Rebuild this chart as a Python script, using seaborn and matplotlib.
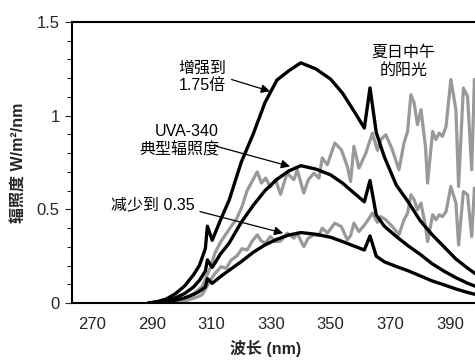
import matplotlib
matplotlib.use("Agg")
import matplotlib.pyplot as plt
import seaborn as sns
import numpy as np
import pandas as pd

# black curves: lamp spectra (wavelength in nm, irradiance W/m2/nm)
lamp_nm = [289, 292, 295, 298, 301, 304, 306, 308, 308.7, 310.3, 313, 316, 320, 324,
           328, 332, 336, 340, 345, 350, 354, 358, 361.3, 363.2, 365.3, 368, 372, 376,
           380, 384, 388, 392, 396, 400]
boost_175 = [0.0, 0.008, 0.022, 0.05, 0.09, 0.15, 0.2, 0.29, 0.41, 0.335, 0.44, 0.55, 0.75, 0.9,
             1.07, 1.19, 1.24, 1.282, 1.25, 1.195, 1.12, 1.02, 0.934, 1.148, 0.91, 0.78, 0.63, 0.54,
             0.44, 0.365, 0.3, 0.235, 0.185, 0.14]
uva340 = [0.0, 0.005, 0.013, 0.028, 0.05, 0.085, 0.12, 0.17, 0.23, 0.19, 0.26, 0.32, 0.43, 0.52,
          0.6, 0.66, 0.705, 0.733, 0.715, 0.684, 0.64, 0.585, 0.54, 0.654, 0.47, 0.41, 0.355, 0.305,
          0.26, 0.21, 0.17, 0.135, 0.105, 0.08]
reduce_035 = [0.0, 0.003, 0.007, 0.015, 0.027, 0.045, 0.062, 0.085, 0.13, 0.105, 0.14, 0.175, 0.22, 0.27,
              0.31, 0.34, 0.363, 0.376, 0.367, 0.351, 0.328, 0.303, 0.283, 0.358, 0.25, 0.22, 0.195, 0.172,
              0.145, 0.118, 0.097, 0.075, 0.056, 0.04]

# gray curves: noon sunlight
sun_nm = [296, 299, 302, 305, 307, 309.7, 311.3, 313.3, 315, 316.7, 318.5, 320.3, 322, 323.7,
          325.4, 326.8, 328.2, 329.8, 331.5, 333.2, 335.4, 337.7, 338.8, 341, 342.5, 344.4, 346.1,
          347.2, 348.9, 351.4, 353.6, 355.6, 356.7, 357.8, 359.5, 361.8, 364, 365.7, 366.8, 368.5,
          370.7, 372.9, 374.6, 375.8, 376.9, 378, 379.1, 380.3, 381.8, 382.5, 384.2, 385.3, 386.4,
          387.5, 388.7, 390.3, 392, 392.9, 394.5, 395.9, 397.3, 398.2, 399.5]
sun_high = [0.0, 0.01, 0.03, 0.06, 0.09, 0.19, 0.27, 0.33, 0.37, 0.41, 0.45, 0.515, 0.6, 0.65,
            0.7, 0.64, 0.667, 0.62, 0.66, 0.58, 0.693, 0.658, 0.711, 0.587, 0.658, 0.693, 0.667,
            0.774, 0.738, 0.854, 0.818, 0.729, 0.649, 0.836, 0.72, 0.8, 0.907, 0.815, 0.872, 0.898,
            0.818, 0.711, 0.854, 0.916, 1.112, 1.068, 0.952, 1.032, 0.836, 0.64, 0.916, 0.872, 0.907,
            0.889, 0.943, 1.193, 1.032, 0.622, 1.148, 1.103, 0.711, 1.193, 1.0]
sun_low = [0.0, 0.005, 0.015, 0.03, 0.045, 0.123, 0.159, 0.194, 0.185, 0.23, 0.25, 0.29, 0.283, 0.33,
           0.364, 0.33, 0.32, 0.355, 0.328, 0.33, 0.373, 0.346, 0.373, 0.301, 0.346, 0.364, 0.36,
           0.4, 0.373, 0.426, 0.408, 0.337, 0.36, 0.426, 0.381, 0.426, 0.48, 0.43, 0.461, 0.444,
           0.408, 0.364, 0.444, 0.48, 0.578, 0.551, 0.497, 0.533, 0.408, 0.328, 0.471, 0.444, 0.471,
           0.461, 0.488, 0.622, 0.533, 0.31, 0.595, 0.578, 0.355, 0.613, 0.5]

x_ticks = [270, 290, 310, 330, 350, 370, 390]
y_ticks = [0, 0.5, 1, 1.5]
y_tick_labels = ["0", "0.5", "1", "1.5"]

sns.set_style("ticks")
plt.rcParams['font.family'] = ['Liberation Sans', 'Noto Sans CJK SC']

fig = plt.figure(figsize=(4.75, 3.6), dpi=100)
ax = fig.add_axes([72 / 475, 57 / 360, 1 - 72 / 475, 281 / 360])

gray = '#999999'
sns.lineplot(x=sun_nm, y=sun_high, color=gray, lw=2.3, ax=ax, estimator=None)
sns.lineplot(x=sun_nm, y=sun_low, color=gray, lw=2.3, ax=ax, estimator=None)
for vals in [boost_175, uva340, reduce_035]:
    sns.lineplot(x=lamp_nm, y=vals, color='black', lw=2.4, ax=ax, estimator=None)

ax.set_xlim(263.3, 398.4)
ax.set_ylim(0, 1.5)
ax.set_xticks(x_ticks)
ax.set_yticks(y_ticks)
ax.set_yticklabels(y_tick_labels)
ax.set_yticks(np.arange(0, 1.51, 0.1), minor=True)
ax.tick_params(axis='x', length=0, pad=10, labelsize=12)
ax.tick_params(axis='y', which='major', length=5, width=0.8, labelsize=12, pad=4)
ax.tick_params(axis='y', which='minor', length=3.8, width=0.8)

ax.spines['right'].set_visible(False)
for s in ['top', 'left', 'bottom']:
    ax.spines[s].set_linewidth(1.5)
    ax.spines[s].set_color('black')

ax.set_xlabel('波长 (nm)', fontsize=11.5, fontweight='bold')
ax.set_ylabel('辐照度 W/m²/nm', fontsize=11.5, fontweight='bold')
ax.xaxis.set_label_coords(0.481, -0.132)
ax.yaxis.set_label_coords(-0.112, 0.5)

txt = dict(fontsize=11.5, color='black')
ax.text(314.9, 1.206, '增强到\n1.75倍', ha='right', va='center', multialignment='right', **txt)
ax.text(312.6, 0.866, 'UVA-340\n典型辐照度', ha='right', va='center', multialignment='right', **txt)
ax.text(304.5, 0.524, '减少到 0.35', ha='right', va='center', **txt)
ax.text(374.4, 1.29, '夏日中午\n的阳光', ha='center', va='center', multialignment='center', **txt)

arrow = dict(arrowstyle='-|>', color='black', lw=0.9, mutation_scale=13, shrinkA=0, shrinkB=0)
ax.annotate('', xy=(329.7, 1.13), xytext=(316.8, 1.193), arrowprops=arrow)
ax.annotate('', xy=(336.4, 0.729), xytext=(311.8, 0.836), arrowprops=arrow)
ax.annotate('', xy=(334.1, 0.373), xytext=(306.2, 0.488), arrowprops=arrow)

plt.savefig('out.png', dpi=100)
